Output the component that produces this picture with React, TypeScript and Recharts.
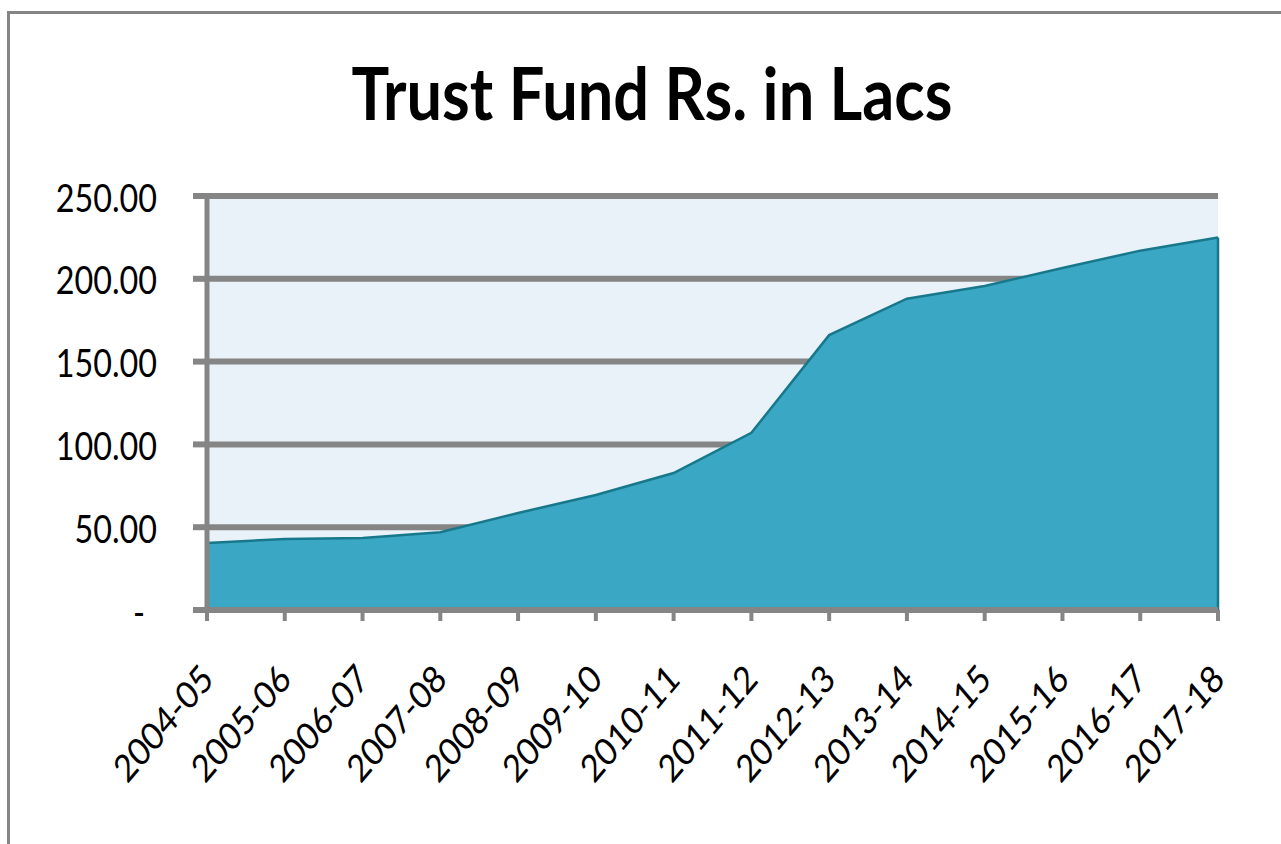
import { AreaChart, Area, XAxis, YAxis, CartesianGrid, ReferenceLine } from "recharts";

const years = [
  "2004-05", "2005-06", "2006-07", "2007-08", "2008-09", "2009-10", "2010-11",
  "2011-12", "2012-13", "2013-14", "2014-15", "2015-16", "2016-17", "2017-18",
];
const fund = [40.5, 42.9, 43.5, 47.0, 58.6, 69.4, 82.7, 107.0, 166.0, 188.0, 195.7, 206.5, 217.0, 225.0];
const yTicks = [0, 50, 100, 150, 200, 250];

const data = years.map((year, i) => ({ year, fund: fund[i] }));
const lastYear = years[years.length - 1];
const lastFund = fund[fund.length - 1];

const GRAY = "#858585";
const TEAL_DARK = "#18788B";
const FONT = "Lato, 'Liberation Sans', Arial, sans-serif";
const SQUISH = 0.85; // labels in the original look horizontally narrowed

function XTick({ x, y, payload }: any) {
  return (
    <text
      transform={`translate(${x - 8},${y + 41}) scale(${SQUISH},1) rotate(-45)`}
      textAnchor="end"
      dy="0.71em"
      fontSize={38}
      fontFamily={FONT}
      fill="#000"
    >
      {payload.value}
    </text>
  );
}

function YTick({ x, y, payload }: any) {
  const v = payload.value as number;
  const label = v === 0 ? "-" : v.toFixed(2);
  const dx = v === 0 ? -12 : 0;
  return (
    <text
      transform={`translate(${x + dx},${y + 2}) scale(${SQUISH},1)`}
      textAnchor="end"
      dy="0.36em"
      fontSize={38}
      fontFamily={FONT}
      fill="#000"
    >
      {label}
    </text>
  );
}

export default function App() {
  return (
    <div>
      <div
        style={{
          position: "absolute",
          left: 7,
          top: 11,
          width: 1274,
          height: 833,
          boxSizing: "border-box",
          borderTop: `3px solid ${GRAY}`,
          borderLeft: `3px solid ${GRAY}`,
        }}
      />
      <div style={{ position: "absolute", left: 0, top: 0 }}>
        <AreaChart
          width={1281}
          height={844}
          data={data}
          margin={{ top: 196, right: 63, bottom: 34, left: 0 }}
        >
          <CartesianGrid
            vertical={false}
            stroke={GRAY}
            strokeWidth={6}
            fill="#EAF2F9"
            fillOpacity={1}
          />
          <XAxis
            dataKey="year"
            interval={0}
            height={200}
            axisLine={{ stroke: GRAY, strokeWidth: 6 }}
            tickLine={{ stroke: GRAY, strokeWidth: 4 }}
            tickSize={11}
            tickMargin={0}
            tick={<XTick />}
          />
          <YAxis
            width={207}
            domain={[0, 250]}
            ticks={yTicks}
            axisLine={{ stroke: GRAY, strokeWidth: 5 }}
            tickLine={{ stroke: GRAY, strokeWidth: 6 }}
            tickSize={14}
            tickMargin={36}
            tick={<YTick />}
          />
          <Area
            type="linear"
            dataKey="fund"
            stroke={TEAL_DARK}
            strokeWidth={2.5}
            fill="#3AA8C4"
            fillOpacity={1}
            isAnimationActive={false}
          />
          <ReferenceLine
            segment={[
              { x: lastYear, y: 0 },
              { x: lastYear, y: lastFund },
            ]}
            stroke={TEAL_DARK}
            strokeWidth={2.5}
          />
        </AreaChart>
      </div>
      <svg
        width={1281}
        height={150}
        style={{ position: "absolute", left: 0, top: 0 }}
      >
        <text
          x={652}
          y={120}
          textAnchor="middle"
          fontSize={72}
          fontWeight="bold"
          fontFamily={FONT}
          textLength={601}
          lengthAdjust="spacingAndGlyphs"
          fill="#000"
        >
          Trust Fund Rs. in Lacs
        </text>
      </svg>
    </div>
  );
}
